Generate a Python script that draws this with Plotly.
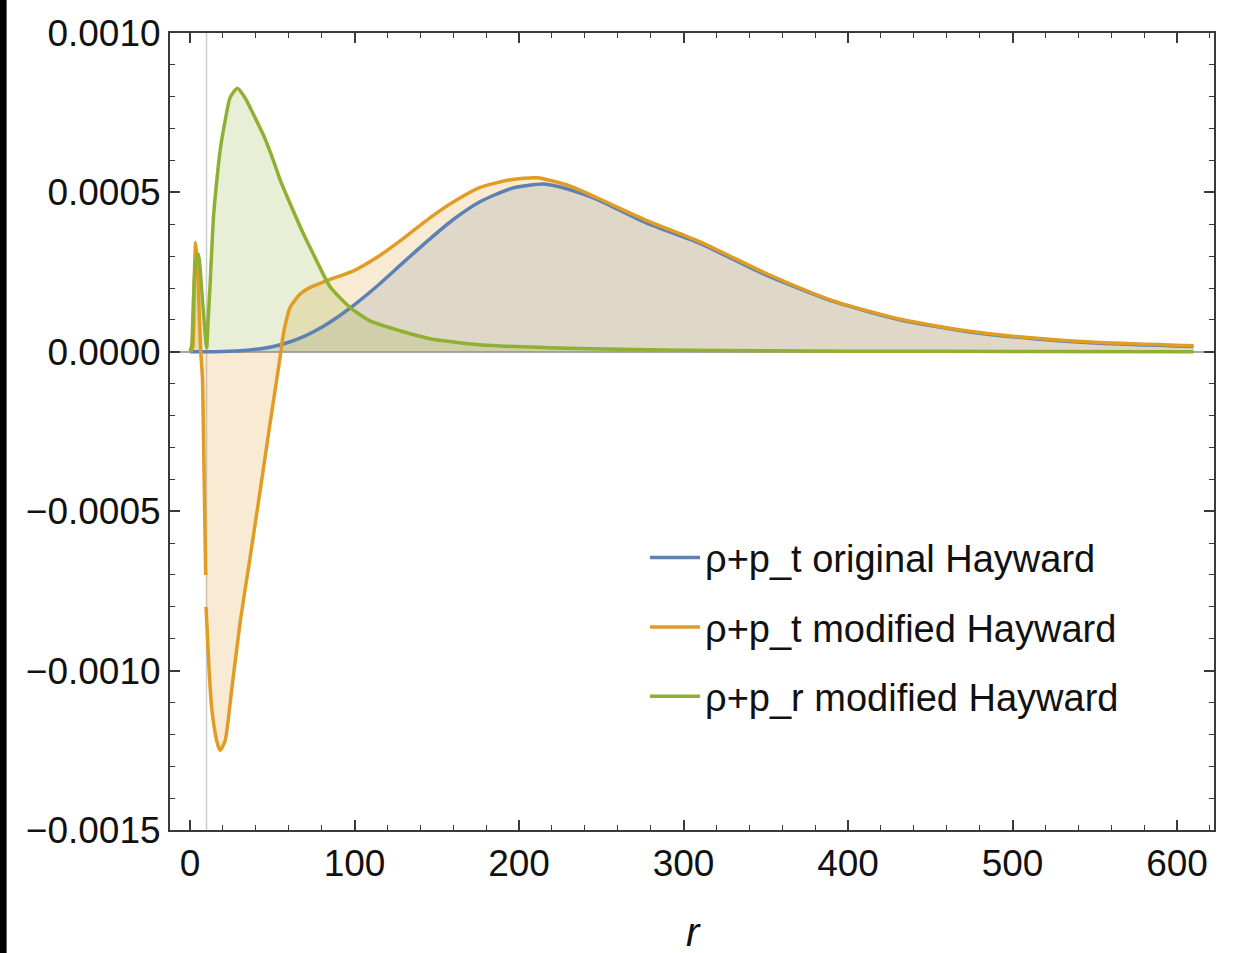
import plotly.graph_objects as go

# ---- data ----
r_orig = [0, 10, 20, 30, 40, 50, 60, 70, 80, 90, 100, 115, 130, 146, 160, 176, 195, 215,
          230, 247, 277, 310, 350, 391, 432, 472, 513, 553, 610]
y_orig = [0, 0, 0.000001, 0.000003, 0.000008, 0.000016, 0.000030, 0.000050, 0.000077,
          0.000110, 0.000148, 0.000212, 0.000282, 0.000355, 0.000415, 0.000470, 0.000512,
          0.000526, 0.000510, 0.000479, 0.000405, 0.000340, 0.000241, 0.000158, 0.000100,
          0.000064, 0.000041, 0.000027, 0.000017]

r_mod_t = [0, 1.5, 2.5, 3.4, 4.5, 5.5, 6.5, 7.5, 8.5, 9.5, None, 9.7, 11.7, 13.2, 16.2,
           18.2, 21.3, 25.3, 30.4, 36.5, 42.6, 48.6, 54.7, 56.7, 60.8, 66.9, 73, 83, 99.3,
           113.5, 127.7, 146, 160, 176, 195, 211, 230, 247, 278, 310, 351, 391, 432, 472,
           513, 553, 610]
y_mod_t = [0, 0.00001, 0.00022, 0.000343, 0.00027, 0.00013, 0.0, -0.00008, -0.00038,
           -0.00070, None, -0.00080, -0.00101, -0.00112, -0.00122, -0.00125, -0.00122,
           -0.00106, -0.00085, -0.000645, -0.000436, -0.000226, -0.000018, 0.000055,
           0.000139, 0.000181, 0.000202, 0.000223, 0.000254, 0.000296, 0.000348, 0.000421,
           0.000470, 0.000515, 0.000540, 0.000546, 0.000522, 0.000484, 0.000411, 0.000345,
           0.000244, 0.000160, 0.000102, 0.000066, 0.000043, 0.000029, 0.000019]

r_mod_r = [0, 1, 2, 3, 4, 5, 6, 7, 8.5, 10.1, 11, 12.2, 14.2, 16.5, 18.5, 21.3, 24.3, 28.8,
           33.4, 38.5, 44.6, 51, 54.7, 60.8, 68.9, 77, 85, 97.3, 109.4, 127.7, 146, 176,
           237, 300, 400, 500, 610]
y_mod_r = [0, 0.00002, 0.00016, 0.00026, 0.00030, 0.000306, 0.00027, 0.00020, 0.00010,
           0.000013, 0.00010, 0.000213, 0.00042, 0.00055, 0.00064, 0.000724, 0.000797,
           0.000827, 0.000797, 0.000745, 0.00068, 0.000595, 0.00054, 0.000465, 0.00037,
           0.000285, 0.000205, 0.000139, 0.000097, 0.000066, 0.000041, 0.000022, 0.000010,
           0.000005, 0.000002, 0.000001, 0.0]

names = ["ρ+p_t original Hayward", "ρ+p_t modified Hayward", "ρ+p_r modified Hayward"]
colors = ["#5E81B5", "#E19C24", "#8FB032"]
fills = ["rgba(94,129,181,0.2)", "rgba(225,156,36,0.2)", "rgba(143,176,50,0.2)"]

x_ticks = [0, 100, 200, 300, 400, 500, 600]
y_ticks = [0.0010, 0.0005, 0.0, -0.0005, -0.0010, -0.0015]
r_marker = 10

series = [(r_orig, y_orig), (r_mod_t, y_mod_t), (r_mod_r, y_mod_r)]

FONT = "Liberation Sans, Arial, sans-serif"

fig = go.Figure()
for (xs, ys), fc in zip(series, fills):
    fig.add_trace(go.Scatter(x=xs, y=ys, mode="lines", fill="tozeroy", fillcolor=fc,
                             line=dict(width=0, shape="spline", smoothing=0.6),
                             connectgaps=True, showlegend=False, hoverinfo="skip"))
for i, ((xs, ys), c, n) in enumerate(zip(series, colors, names)):
    fig.add_trace(go.Scatter(x=xs, y=ys, mode="lines", name=n, connectgaps=False,
                             legendgroup=f"g{i}",
                             line=dict(color=c, width=3.5, shape="spline", smoothing=0.6)))

fig.add_shape(type="line", xref="x", yref="paper", x0=r_marker, x1=r_marker, y0=0, y1=1,
              line=dict(color="#cccccc", width=1.5), layer="below")
# black strip at the left edge of the picture
fig.add_shape(type="rect", xref="paper", yref="paper", x0=-0.1630, x1=-0.1565,
              y0=-0.16, y1=1.05, fillcolor="black", line=dict(width=0))

axis_common = dict(showline=True, linecolor="#3a3a3a", linewidth=2, mirror="allticks",
                   ticks="inside", tickcolor="#3a3a3a", tickwidth=1.5, ticklen=10,
                   showgrid=False, automargin=False,
                   tickfont=dict(family=FONT, size=37, color="#111"))

fig.update_xaxes(range=[-12.2, 622.5], tickvals=x_ticks,
                 ticktext=[str(v) for v in x_ticks],
                 minor=dict(dtick=20, ticklen=5, ticks="inside", tickcolor="#3a3a3a",
                            tickwidth=1.2, showgrid=False),
                 zeroline=False, **axis_common)
fig.update_yaxes(range=[-0.0015, 0.0010], tickvals=y_ticks,
                 ticktext=["0.0010", "0.0005", "0.0000", "\u22120.0005", "\u22120.0010",
                           "\u22120.0015"],
                 minor=dict(dtick=0.0001, ticklen=5, ticks="inside", tickcolor="#3a3a3a",
                            tickwidth=1.2, showgrid=False),
                 zeroline=True, zerolinecolor="#a8a8a8", zerolinewidth=2,
                 **axis_common)

fig.add_annotation(text="<i>r</i>", xref="paper", yref="paper", x=0.501, y=-0.128,
                   yanchor="middle", showarrow=False,
                   font=dict(family=FONT, size=40, color="#111"))

fig.update_layout(
    width=1236, height=953,
    margin=dict(l=170, r=22, t=33, b=123),
    paper_bgcolor="white", plot_bgcolor="white",
    showlegend=True,
    legend=dict(x=0.455, y=0.381, xanchor="left", yanchor="top",
                bgcolor="rgba(0,0,0,0)", font=dict(family=FONT, size=38, color="#111"),
                itemwidth=50, tracegroupgap=17),
)

fig.write_html("out.html", config={"displayModeBar": False},
               post_script="document.body.style.margin='0';document.body.style.overflow='hidden';")
